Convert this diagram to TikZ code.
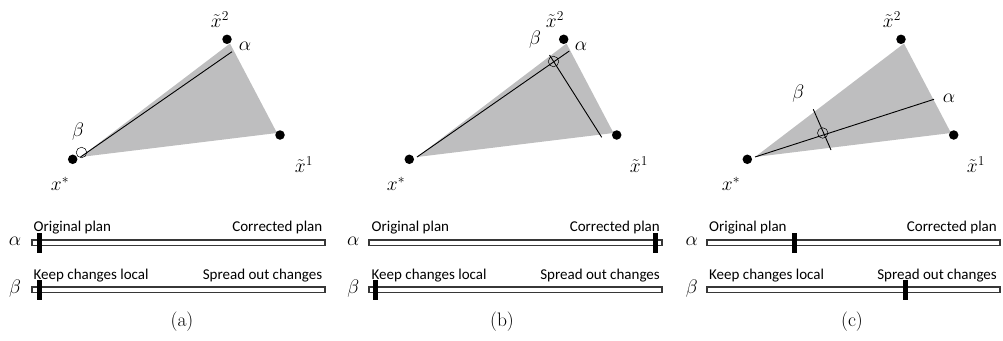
\documentclass[tikz,border=0pt]{standalone}
\usepackage{fontspec}
\usepackage{graphicx}
\newfontfamily\sliderfont{Carlito}
\newcommand\mlab[1]{\scalebox{1.13}{$#1$}}
\definecolor{tri}{RGB}{190,190,191}
\definecolor{bardark}{RGB}{55,55,55}
\begin{document}
\begin{tikzpicture}[x=1pt,y=-1pt,
  dot/.style={circle,fill=black,inner sep=0pt,minimum size=9.5pt},
  region/.style={fill=tri,draw=none},
  axisline/.style={line width=0.9pt},
  marker/.style={circle,draw,line width=0.5pt,inner sep=0pt,minimum size=10.5pt},
  mlabel/.style={font=\fontsize{17.28}{20}\selectfont,inner sep=0pt},
  bar/.style={rectangle,draw=bardark,fill=white,line width=1.5pt,minimum width=293pt,minimum height=5.5pt,inner sep=0pt},
  thumb/.style={rectangle,fill=black,minimum width=5pt,minimum height=20pt,inner sep=0pt},
  stxt/.style={font=\sliderfont\fontsize{15}{17}\selectfont,inner sep=0pt},
  captxt/.style={font=\fontsize{19.5}{22}\selectfont,inner sep=0pt}]
\useasboundingbox (0,0) rectangle (1003,340);

% ---------------- panel (a) ----------------
\coordinate (aT) at (80.5,157);
\coordinate (aU) at (230,43.5);
\coordinate (aR) at (277,133);
\fill[region] (aT) -- (aU) -- (aR) -- cycle;
\coordinate (aA) at (232,51.7);
\draw[axisline] (aT) -- (aA);
\node[marker] (aM) at (81.5,152.5) {};
\node[dot] (axs) at (72.7,159.3) {};
\node[dot] (ax2) at (227,39.3) {};
\node[dot] (ax1) at (280,135) {};
\node[mlabel] (axsl) at (60,184) {\mlab{x^{*}}};
\node[mlabel] (ax2l) at (220,20) {\mlab{\tilde{x}^{2}}};
\node[mlabel] (ax1l) at (304,165) {\mlab{\tilde{x}^{1}}};
\node[mlabel] (aal) at (245,46.5) {\mlab{\alpha}};
\node[mlabel] (abl) at (78,132) {\mlab{\beta}};

% ---------------- panel (b) ----------------
\coordinate (bT) at (417,157);
\coordinate (bU) at (566.5,43.5);
\coordinate (bR) at (613.5,133);
\fill[region] (bT) -- (bU) -- (bR) -- cycle;
\coordinate (bA) at (569.3,51);
\coordinate (bB1) at (549.5,55);
\coordinate (bB2) at (601.7,137.3);
\draw[axisline] (bT) -- (bA);
\draw[axisline] (bB1) -- (bB2);
\node[marker] (bM) at (553.5,61.5) {};
\node[dot] (bxs) at (409.3,159.3) {};
\node[dot] (bx2) at (563.7,39.3) {};
\node[dot] (bx1) at (616.7,135) {};
\node[mlabel] (bxsl) at (396,184) {\mlab{x^{*}}};
\node[mlabel] (bx2l) at (555,20) {\mlab{\tilde{x}^{2}}};
\node[mlabel] (bx1l) at (639,165) {\mlab{\tilde{x}^{1}}};
\node[mlabel] (bal) at (581,46) {\mlab{\alpha}};
\node[mlabel] (bbl) at (535,40) {\mlab{\beta}};

% ---------------- panel (c) ----------------
\coordinate (cT) at (755,157);
\coordinate (cU) at (904,43.5);
\coordinate (cR) at (951,133);
\fill[region] (cT) -- (cU) -- (cR) -- cycle;
\coordinate (cA) at (934,99.3);
\coordinate (cB1) at (813.3,109.3);
\coordinate (cB2) at (831,150);
\draw[axisline] (cT) -- (cA);
\draw[axisline] (cB1) -- (cB2);
\node[marker] (cM) at (822.7,133) {};
\node[dot] (cxs) at (747.3,159.3) {};
\node[dot] (cx2) at (901,39.3) {};
\node[dot] (cx1) at (953.7,135) {};
\node[mlabel] (cxsl) at (731,184) {\mlab{x^{*}}};
\node[mlabel] (cx2l) at (892,20) {\mlab{\tilde{x}^{2}}};
\node[mlabel] (cx1l) at (976,165) {\mlab{\tilde{x}^{1}}};
\node[mlabel] (cal) at (949,98) {\mlab{\alpha}};
\node[mlabel] (cbl) at (798.3,94) {\mlab{\beta}};

% ---------------- sliders ----------------
% (a)
\node[bar] (aSA) at (178.5,242.8) {};
\node[bar] (aSB) at (178.5,289.5) {};
\node[thumb] (aTA) at (39.2,243.3) {};
\node[thumb] (aTB) at (39.2,289.5) {};
\node[mlabel] (aSAl) at (15,241.5) {\mlab{\alpha}};
\node[mlabel] (aSBl) at (15,289) {\mlab{\beta}};
\node[stxt,anchor=base west] (aO) at (33.5,231.7) {Original plan};
\node[stxt,anchor=base east] (aC) at (322.5,231.7) {Corrected plan};
\node[stxt,anchor=base west] (aK) at (33.5,279) {Keep changes local};
\node[stxt,anchor=base east] (aS) at (322.5,279) {Spread out changes};
\node[captxt] (acap) at (182,322) {(a)};

% (b)
\node[bar] (bSA) at (515.7,242.8) {};
\node[bar] (bSB) at (515.7,289.5) {};
\node[thumb] (bTA) at (655,243.3) {};
\node[thumb] (bTB) at (375.7,289.5) {};
\node[mlabel] (bSAl) at (353.3,241.5) {\mlab{\alpha}};
\node[mlabel] (bSBl) at (353.3,289) {\mlab{\beta}};
\node[stxt,anchor=base west] (bO) at (371.5,231.7) {Original plan};
\node[stxt,anchor=base east] (bC) at (660,231.7) {Corrected plan};
\node[stxt,anchor=base west] (bK) at (371.5,279) {Keep changes local};
\node[stxt,anchor=base east] (bS) at (660,279) {Spread out changes};
\node[captxt] (bcap) at (502,322) {(b)};

% (c)
\node[bar] (cSA) at (853.3,242.8) {};
\node[bar] (cSB) at (853.3,289.5) {};
\node[thumb] (cTA) at (794,243.3) {};
\node[thumb] (cTB) at (905,289.5) {};
\node[mlabel] (cSAl) at (691.7,241.5) {\mlab{\alpha}};
\node[mlabel] (cSBl) at (691.7,289) {\mlab{\beta}};
\node[stxt,anchor=base west] (cO) at (709,231.7) {Original plan};
\node[stxt,anchor=base east] (cC) at (997,231.7) {Corrected plan};
\node[stxt,anchor=base west] (cK) at (709,279) {Keep changes local};
\node[stxt,anchor=base east] (cS) at (997,279) {Spread out changes};
\node[captxt] (ccap) at (852,322) {(c)};
\end{tikzpicture}
\end{document}
